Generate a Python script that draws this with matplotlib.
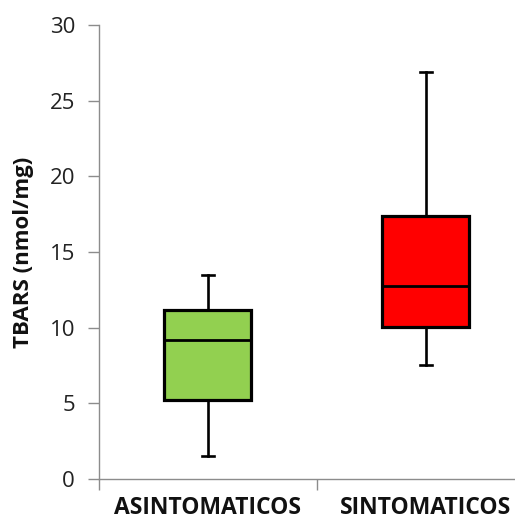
import matplotlib
matplotlib.use("Agg")
import matplotlib.pyplot as plt

categories = ["ASINTOMATICOS", "SINTOMATICOS"]
whisker_low = [1.5, 7.5]
q1 = [5.2, 10.05]
median = [9.2, 12.75]
q3 = [11.2, 17.4]
whisker_high = [13.5, 26.9]
colors = ["#92D050", "#FF0000"]
yticks = [0, 5, 10, 15, 20, 25, 30]

plt.rcParams['font.family'] = ['Open Sans', 'DejaVu Sans']

fig = plt.figure(figsize=(5.15, 5.22), dpi=100)
ax = fig.add_axes([0.1917, 0.0824, 0.8083, 0.8697])

stats = []
for i, c in enumerate(categories):
    stats.append(dict(label=c, whislo=whisker_low[i], q1=q1[i], med=median[i],
                      q3=q3[i], whishi=whisker_high[i], fliers=[]))

positions = list(range(1, len(categories) + 1))
bp = ax.bxp(stats, positions=positions, widths=0.4, patch_artist=True,
            showfliers=False, capwidths=0.055,
            boxprops=dict(linewidth=2.3, edgecolor='black'),
            medianprops=dict(linewidth=2.0, color='black'),
            whiskerprops=dict(linewidth=1.9, color='black'),
            capprops=dict(linewidth=1.9, color='black'))
for patch, col in zip(bp['boxes'], colors):
    patch.set_facecolor(col)

ax.set_ylim(0, 30)
ax.set_yticks(yticks)
ax.set_xlim(0.5, 0.5 + (515 - 98.7) / 218)
ax.set_xticks([0.5, 1.5], minor=False)
ax.set_xticklabels(["", ""])
ax.set_xticks(positions, minor=True)
ax.set_xticklabels(categories, minor=True, fontsize=16.5, fontweight='bold', color='#111111')
ax.tick_params(axis='x', which='minor', length=0, pad=12)
ax.tick_params(axis='x', which='major', length=8, color='#8c8c8c', width=1)
ax.tick_params(axis='y', length=8, color='#8c8c8c', width=1, labelsize=16, pad=9, labelcolor='#222222')

for s in ['top', 'right']:
    ax.spines[s].set_visible(False)
for s in ['left', 'bottom']:
    ax.spines[s].set_color('#8c8c8c')
    ax.spines[s].set_linewidth(1)

ax.set_ylabel("TBARS (nmol/mg)", fontsize=16, fontweight='bold', color='#111111')
ax.yaxis.set_label_coords(-0.155, 0.5)

fig.savefig("out.png", dpi=100)
